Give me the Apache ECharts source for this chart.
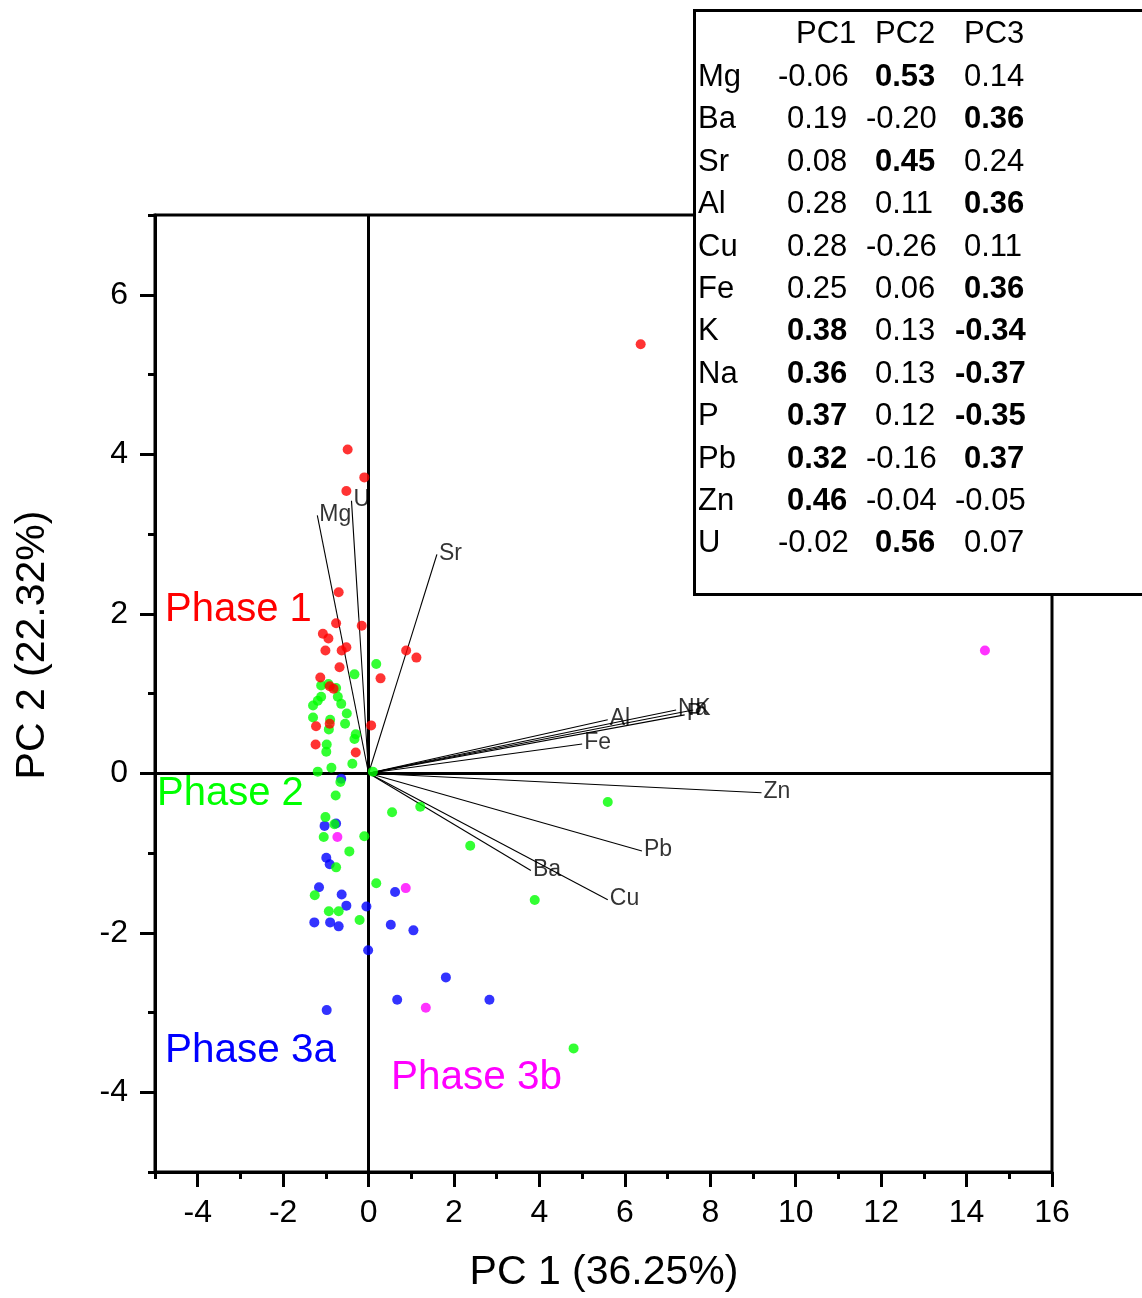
<!DOCTYPE html>
<html>
<head>
<meta charset="utf-8">
<script src="https://cdn.jsdelivr.net/npm/echarts@6/dist/echarts.min.js"></script>
<style>
  html, body { margin: 0; padding: 0; background: #ffffff; }
  #chart { width: 1142px; height: 1298px; }
</style>
</head>
<body>
<div id="chart"></div>
<script>
// PCA loadings of the elements on the first three components
const elements = ['Mg', 'Ba', 'Sr', 'Al', 'Cu', 'Fe', 'K', 'Na', 'P', 'Pb', 'Zn', 'U'];
const pc1Loadings = [-0.06, 0.19, 0.08, 0.28, 0.28, 0.25, 0.38, 0.36, 0.37, 0.32, 0.46, -0.02];
const pc2Loadings = [0.53, -0.20, 0.45, 0.11, -0.26, 0.06, 0.13, 0.13, 0.12, -0.16, -0.04, 0.56];
const pc3Loadings = [0.14, 0.36, 0.24, 0.36, 0.11, 0.36, -0.34, -0.37, -0.35, 0.37, -0.05, 0.07];
const tableHeaders = ['PC1', 'PC2', 'PC3'];

// Sample scores (PC1, PC2) by phase
const phase1 = [
  [-0.49, 4.06], [-0.10, 3.71], [-0.52, 3.54], [-0.70, 2.27], [-0.76, 1.88], [-0.16, 1.85],
  [-1.07, 1.75], [-0.94, 1.69], [-1.01, 1.54], [-0.63, 1.54], [-0.52, 1.58], [0.88, 1.54],
  [1.12, 1.45], [-0.68, 1.33], [0.28, 1.19], [-1.13, 1.20], [-0.91, 1.09], [-0.82, 1.06],
  [-1.23, 0.59], [-0.91, 0.62], [0.06, 0.60], [-1.24, 0.36], [-0.30, 0.26], [6.37, 5.38]
];
const phase2 = [
  [0.18, 1.37], [-0.33, 1.24], [-1.11, 1.10], [-0.94, 1.12], [-0.76, 1.07], [-0.72, 0.96],
  [-1.11, 0.96], [-1.19, 0.91], [-1.30, 0.85], [-0.64, 0.87], [-0.51, 0.75], [-1.30, 0.70],
  [-0.90, 0.67], [-0.55, 0.62], [-0.93, 0.55], [-0.30, 0.49], [-0.33, 0.43], [-0.98, 0.36],
  [-0.99, 0.27], [-0.38, 0.12], [-0.87, 0.07], [-1.19, 0.02], [0.10, 0.02], [-0.66, -0.11],
  [-0.77, -0.28], [0.55, -0.49], [1.21, -0.42], [-1.01, -0.55], [-0.80, -0.64], [-1.05, -0.80],
  [-0.10, -0.79], [-0.45, -0.98], [-0.76, -1.18], [2.38, -0.91], [0.18, -1.38], [-1.26, -1.53],
  [-0.93, -1.73], [-0.70, -1.73], [-0.21, -1.84], [5.60, -0.36], [3.89, -1.59], [4.80, -3.45]
];
const phase3a = [
  [-0.64, -0.07], [-1.03, -0.66], [-0.76, -0.63], [-0.99, -1.06], [-0.91, -1.14], [-1.16, -1.43],
  [-0.63, -1.52], [0.62, -1.49], [-0.52, -1.66], [-0.05, -1.67], [-1.27, -1.87], [-0.90, -1.87],
  [-0.70, -1.92], [0.52, -1.90], [1.05, -1.97], [-0.01, -2.22], [1.81, -2.56], [0.67, -2.84],
  [2.83, -2.84], [-0.98, -2.97]
];
const phase3b = [
  [-0.73, -0.80], [0.87, -1.44], [1.34, -2.94], [14.43, 1.54]
];

// Axis ticks
const xTickValues = [-4, -2, 0, 2, 4, 6, 8, 10, 12, 14, 16];
const xMinorTicks = [-5, -3, -1, 1, 3, 5, 7, 9, 11, 13, 15];
const yTickValues = [-4, -2, 0, 2, 4, 6];
const yMinorTicks = [-5, -3, -1, 1, 3, 5, 7];

// Loading vectors are stretched to the score space for display
const VECTOR_SCALE_X = 20;
const VECTOR_SCALE_Y = 6.1;

const FONT = '"Liberation Sans", Arial, sans-serif';
const COLORS = { p1: '#ff0000', p2: '#00ff00', p3a: '#0000ff', p3b: '#ff00ff' };

const vectorEnds = elements.map((name, i) => ({
  name: name,
  value: [pc1Loadings[i] * VECTOR_SCALE_X, pc2Loadings[i] * VECTOR_SCALE_Y]
}));

const chart = echarts.init(document.getElementById('chart'), null, { renderer: 'canvas' });

function majorAxis(extra) {
  return Object.assign({
    type: 'value',
    gridIndex: 0,
    axisLine: { show: true, onZero: false, lineStyle: { color: '#000', width: 3 } },
    splitLine: { show: false },
    minorTick: { show: false }
  }, extra);
}
function minorAxis(extra) {
  return Object.assign({
    type: 'value',
    gridIndex: 0,
    axisLine: { show: false, onZero: false },
    axisLabel: { show: false },
    splitLine: { show: false }
  }, extra);
}

// Loadings table drawn as text cells
const tableGraphics = [];
tableGraphics.push({
  type: 'rect', z: 100,
  shape: { x: 694.5, y: 10.5, width: 480, height: 584 },
  style: { fill: '#ffffff', stroke: '#000000', lineWidth: 3 }
});
const colX = [787, 875, 964];
const headerX = [796, 875, 964];
const rowY0 = 76, rowStep = 42.4;
tableHeaders.forEach((h, c) => {
  tableGraphics.push({
    type: 'text', z: 101, x: headerX[c], y: 34,
    style: { text: h, font: '31px ' + FONT, fill: '#000', textAlign: 'left', textVerticalAlign: 'middle' }
  });
});
const columns = [pc1Loadings, pc2Loadings, pc3Loadings];
elements.forEach((el, r) => {
  const y = rowY0 + 1.5 + r * rowStep;
  tableGraphics.push({
    type: 'text', z: 101, x: 698, y: y,
    style: { text: el, font: '31px ' + FONT, fill: '#000', textAlign: 'left', textVerticalAlign: 'middle' }
  });
  columns.forEach((col, c) => {
    const v = col[r];
    const txt = v.toFixed(2);
    const bold = Math.abs(v) >= 0.3;
    tableGraphics.push({
      type: 'text', z: 101, x: colX[c] - (v < 0 ? 9 : 0), y: y,
      style: {
        text: txt, font: (bold ? 'bold ' : '') + '31px ' + FONT, fill: '#000',
        textAlign: 'left', textVerticalAlign: 'middle'
      }
    });
  });
});

function label(text, x, y, color, size) {
  return {
    type: 'text', z: 50, x: x, y: y,
    style: { text: text, font: size + 'px ' + FONT, fill: color, textAlign: 'left', textVerticalAlign: 'middle' }
  };
}

const option = {
  backgroundColor: '#ffffff',
  animation: false,
  grid: {
    left: 155, right: 90, top: 215, bottom: 126,
    show: true, borderColor: '#000', borderWidth: 3, backgroundColor: 'transparent'
  },
  xAxis: [
    majorAxis({
      min: -5, max: 16, position: 'bottom',
      axisTick: { show: true, inside: false, length: 15, customValues: xTickValues, lineStyle: { color: '#000', width: 3 } },
      axisLabel: { show: true, color: '#000', fontSize: 32, fontFamily: FONT, margin: 25, customValues: xTickValues }
    }),
    minorAxis({
      min: -5, max: 16, position: 'bottom',
      axisTick: { show: true, inside: false, length: 7, customValues: xMinorTicks, lineStyle: { color: '#000', width: 3 } }
    })
  ],
  yAxis: [
    majorAxis({
      min: -5, max: 7, position: 'left',
      axisTick: { show: true, inside: false, length: 15, customValues: yTickValues, lineStyle: { color: '#000', width: 3 } },
      axisLabel: { show: true, color: '#000', fontSize: 32, fontFamily: FONT, margin: 27, customValues: yTickValues }
    }),
    minorAxis({
      min: -5, max: 7, position: 'left',
      axisTick: { show: true, inside: false, length: 7, customValues: yMinorTicks, lineStyle: { color: '#000', width: 3 } }
    })
  ],
  series: [
    {
      // zero reference lines
      type: 'line', xAxisIndex: 0, yAxisIndex: 0, data: [], z: 2,
      markLine: {
        silent: true, symbol: 'none', animation: false,
        label: { show: false },
        lineStyle: { color: '#000', width: 3, type: 'solid' },
        data: [{ xAxis: 0 }, { yAxis: 0 }]
      }
    },
    {
      // loading vectors
      type: 'lines', coordinateSystem: 'cartesian2d', xAxisIndex: 0, yAxisIndex: 0, z: 3,
      lineStyle: { color: '#000', width: 1.1, opacity: 1 },
      data: vectorEnds.map(d => ({ coords: [[0, 0], d.value] }))
    },
    {
      // vector labels
      type: 'scatter', xAxisIndex: 0, yAxisIndex: 0, z: 4,
      symbolSize: 0,
      data: vectorEnds,
      label: {
        show: true, position: 'right', distance: 2, offset: [0, -1],
        formatter: '{b}', color: '#000', fontSize: 23, fontFamily: FONT
      }
    },
    { name: 'Phase 3a', type: 'scatter', z: 5, symbol: 'circle', symbolSize: 10, itemStyle: { color: COLORS.p3a }, data: phase3a },
    { name: 'Phase 2', type: 'scatter', z: 6, symbol: 'circle', symbolSize: 10, itemStyle: { color: COLORS.p2 }, data: phase2 },
    { name: 'Phase 1', type: 'scatter', z: 7, symbol: 'circle', symbolSize: 10, itemStyle: { color: COLORS.p1 }, data: phase1 },
    { name: 'Phase 3b', type: 'scatter', z: 8, symbol: 'circle', symbolSize: 10, itemStyle: { color: COLORS.p3b }, data: phase3b }
  ],
  graphic: [
    label('Phase 1', 165, 610, COLORS.p1, 40),
    label('Phase 2', 157, 794, COLORS.p2, 40),
    label('Phase 3a', 165, 1051, COLORS.p3a, 40.5),
    label('Phase 3b', 391, 1078, COLORS.p3b, 40.5),
    {
      type: 'text', z: 50, x: 604, y: 1273,
      style: { text: 'PC 1 (36.25%)', font: '41px ' + FONT, fill: '#000', textAlign: 'center', textVerticalAlign: 'middle' }
    },
    {
      type: 'text', z: 50, x: 33, y: 645, rotation: Math.PI / 2,
      style: { text: 'PC 2 (22.32%)', font: '41px ' + FONT, fill: '#000', textAlign: 'center', textVerticalAlign: 'middle' }
    }
  ].concat(tableGraphics)
};

chart.setOption(option);
</script>
</body>
</html>
